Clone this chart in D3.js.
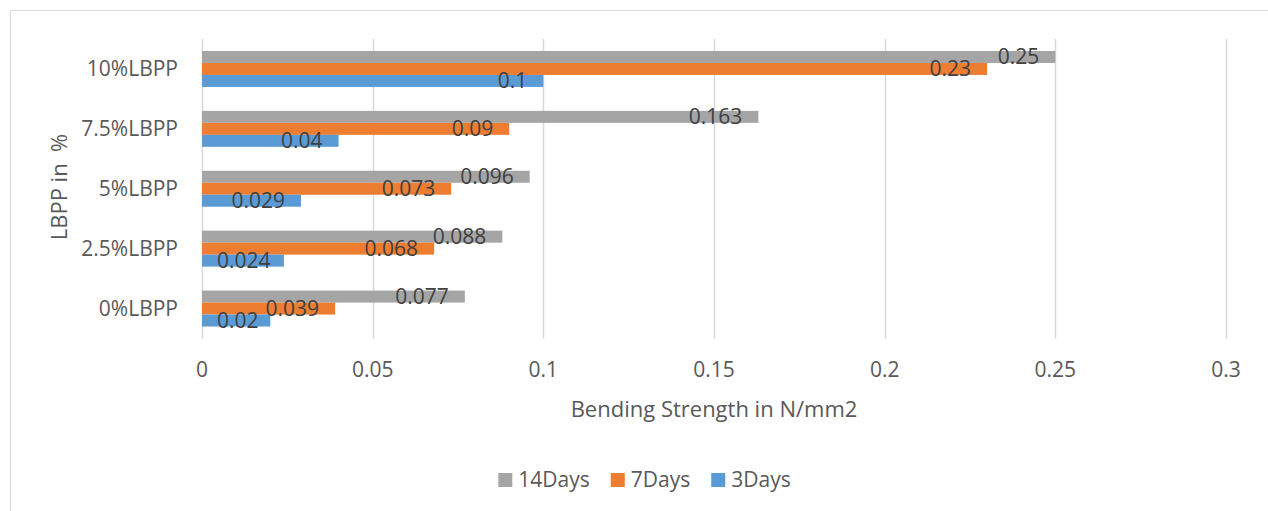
<!DOCTYPE html>
<html>
<head>
<meta charset="utf-8">
<script src="https://cdn.jsdelivr.net/npm/d3@7"></script>
<style>
  html, body { margin: 0; padding: 0; background: #fff; }
  svg text { font-family: "Open Sans", "Liberation Sans", sans-serif; }
</style>
</head>
<body>
<svg id="chart" width="1268" height="511"></svg>
<script>
// Mix proportions, top to bottom
const categories = ["10%LBPP", "7.5%LBPP", "5%LBPP", "2.5%LBPP", "0%LBPP"];
// Curing ages, drawn top to bottom within each group
const seriesNames = ["14Days", "7Days", "3Days"];
const seriesColors = ["#A5A5A5", "#ED7D31", "#5B9BD5"];
// Bending strength (N/mm2), one value per category
const days14 = [0.25, 0.163, 0.096, 0.088, 0.077];
const days7  = [0.23, 0.09, 0.073, 0.068, 0.039];
const days3  = [0.1, 0.04, 0.029, 0.024, 0.02];
const xTicks = [0, 0.05, 0.1, 0.15, 0.2, 0.25, 0.3];
const xTickLabels = ["0", "0.05", "0.1", "0.15", "0.2", "0.25", "0.3"];

const seriesValues = [days14, days7, days3];

const svg = d3.select("#chart");
const axisColor = "#595959";
const labelColor = "#404040";
const fontSize = 21;

// chart frame
svg.append("rect")
  .attr("x", 10.5).attr("y", 10.5)
  .attr("width", 1268).attr("height", 520)
  .attr("fill", "none").attr("stroke", "#D9D9D9").attr("stroke-width", 1);

const x = d3.scaleLinear().domain([0, 0.3]).range([202, 1226]);
const y = d3.scaleBand().domain(categories).range([39, 338.5])
  .paddingInner(0.4).paddingOuter(0.2);
const ySub = d3.scaleBand().domain(seriesNames).range([0, y.bandwidth()]);

// vertical gridlines
svg.append("g").selectAll("line").data(xTicks).join("line")
  .attr("x1", d => Math.round(x(d)) + 0.5).attr("x2", d => Math.round(x(d)) + 0.5)
  .attr("y1", 39).attr("y2", 338.5)
  .attr("stroke", "#D9D9D9").attr("stroke-width", 1.5);

// x tick labels
svg.append("g").selectAll("text").data(xTicks).join("text")
  .attr("x", d => x(d)).attr("y", 377)
  .attr("text-anchor", "middle")
  .attr("fill", axisColor).attr("font-size", fontSize)
  .text((d, i) => xTickLabels[i]);

// category labels
svg.append("g").selectAll("text").data(categories).join("text")
  .attr("x", 178).attr("y", d => y(d) + y.bandwidth() / 2 + 7.5)
  .attr("text-anchor", "end")
  .attr("fill", axisColor).attr("font-size", fontSize)
  .text(d => d);

// bars
const rows = [];
seriesNames.forEach((s, si) => {
  categories.forEach((c, ci) => {
    rows.push({ series: s, color: seriesColors[si], cat: c, value: seriesValues[si][ci] });
  });
});

svg.append("g").selectAll("rect").data(rows).join("rect")
  .attr("x", x(0))
  .attr("y", d => y(d.cat) + ySub(d.series))
  .attr("width", d => x(d.value) - x(0))
  .attr("height", ySub.bandwidth())
  .attr("fill", d => d.color);

// value labels at the inside end of each bar
const labels = svg.append("g").selectAll("text").data(rows).join("text")
  .attr("y", d => y(d.cat) + ySub(d.series) + ySub.bandwidth() / 2 + 7.5)
  .attr("fill", labelColor).attr("font-size", fontSize)
  .text(d => String(d.value));
labels.each(function (d) {
  const w = this.getComputedTextLength();
  const start = Math.max(x(d.value) - 16 - w, x(0) + 15);
  d3.select(this).attr("x", start);
});

// axis titles
svg.append("text")
  .attr("x", (x(0) + x(0.3)) / 2).attr("y", 417)
  .attr("text-anchor", "middle")
  .attr("fill", axisColor).attr("font-size", 22)
  .text("Bending Strength in N/mm2");

svg.append("text")
  .attr("transform", "translate(67,187) rotate(-90)")
  .attr("text-anchor", "middle")
  .attr("fill", axisColor).attr("font-size", 22)
  .style("white-space", "pre")
  .text("LBPP in  %");

// legend, centred on the chart frame
const legend = svg.append("g");
const items = legend.selectAll("g").data(seriesNames).join("g");
items.append("rect")
  .attr("width", 14).attr("height", 14)
  .attr("y", 473)
  .attr("fill", (d, i) => seriesColors[i]);
items.append("text")
  .attr("x", 20).attr("y", 487)
  .attr("fill", axisColor).attr("font-size", fontSize)
  .text(d => d);
const widths = [];
items.each(function () {
  const tw = d3.select(this).select("text").node().getComputedTextLength();
  widths.push(20 + tw);
});
const gap = 21;
const total = d3.sum(widths) + gap * (widths.length - 1);
let lx = 644.5 - total / 2;
items.each(function (d, i) {
  d3.select(this).attr("transform", `translate(${lx},0)`);
  lx += widths[i] + gap;
});
</script>
</body>
</html>
